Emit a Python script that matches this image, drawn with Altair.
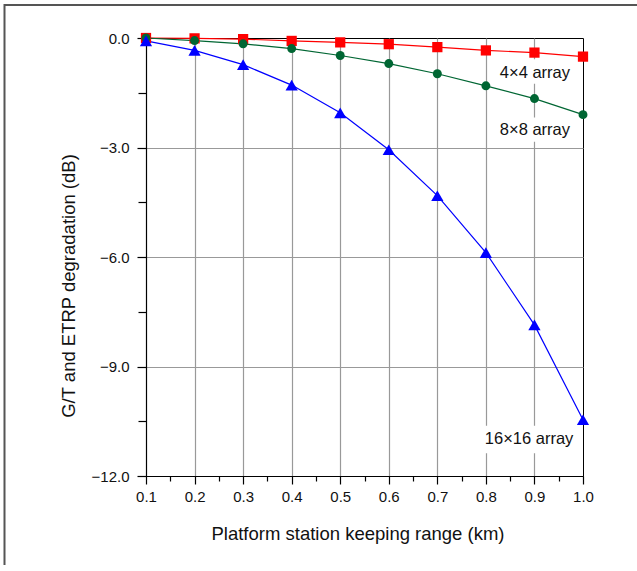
import altair as alt
import pandas as pd

# ---- data ----
ranges_km = [0.1, 0.2, 0.3, 0.4, 0.5, 0.6, 0.7, 0.8, 0.9, 1.0]
deg_4x4 = [0.0, -0.01, -0.03, -0.08, -0.12, -0.17, -0.25, -0.34, -0.40, -0.51]
deg_8x8 = [0.0, -0.07, -0.16, -0.29, -0.48, -0.70, -0.98, -1.31, -1.66, -2.10]
deg_16x16 = [-0.08, -0.34, -0.73, -1.29, -2.05, -3.06, -4.32, -5.88, -7.86, -10.46]
series_names = ["4×4 array", "8×8 array", "16×16 array"]

x_ticks = [round(0.1 + 0.05 * i, 2) for i in range(19)]
y_ticks = [-12.0 + 1.5 * i for i in range(9)]

rows = []
for name, vals in zip(series_names, [deg_4x4, deg_8x8, deg_16x16]):
    for xv, yv in zip(ranges_km, vals):
        rows.append({"range": xv, "deg": yv, "series": name})
df = pd.DataFrame(rows)

# annotation labels (text, position in data units)
ann = pd.DataFrame({
    "text": series_names,
    "x": [0.901, 0.901, 0.889],
    "y": [-0.95, -2.52, -10.99],
    "x0": [0.825, 0.825, 0.793],
    "x1": [0.978, 0.978, 0.985],
    "y0": [-0.58, -2.18, -10.62],
    "y1": [-1.25, -2.84, -11.38],
})

FONT = "Liberation Sans"
colors = ["#ff0000", "#006633", "#0000ff"]
shapes = ["square", "circle", "triangle-up"]
sizes = [105, 80, 150]

xscale = alt.Scale(domain=[0.1, 1.0], nice=False, zero=False)
yscale = alt.Scale(domain=[-12, 0], nice=False, zero=False)

x_major = "round(datum.value*20) % 2 == 0"
y_major = "round(datum.value/1.5) % 2 == 0"

xaxis = alt.Axis(
    values=x_ticks,
    title="Platform station keeping range (km)",
    labelExpr=f"{x_major} ? format(datum.value, '.1f') : ''",
    tickSize={"condition": {"test": x_major, "value": 8}, "value": 5},
    gridOpacity={"condition": {"test": f"{x_major} && datum.value > 0.15 && datum.value < 0.95", "value": 1}, "value": 0},
    labelPadding=5,
    titlePadding=20,
    titleX=211.5,
    labelFlush=False,
    labelOverlap=False,
)
yaxis = alt.Axis(
    values=y_ticks,
    title="G/T and ETRP degradation (dB)",
    labelExpr=f"{y_major} ? format(datum.value, '.1f') : ''",
    tickSize={"condition": {"test": y_major, "value": 9}, "value": 8},
    gridOpacity={"condition": {"test": f"{y_major} && datum.value < -1 && datum.value > -11", "value": 1}, "value": 0},
    labelPadding=8,
    titlePadding=13,
    titleY=247.5,
    labelFlush=False,
    labelOverlap=False,
)

color = alt.Color("series:N", scale=alt.Scale(domain=series_names, range=colors), legend=None)

one = pd.DataFrame({"a": [0]})
# outer figure border drawn as thin filled bars (top and left)
frame_top = alt.Chart(one).mark_rect(color="#555555", strokeWidth=0, clip=False).encode(
    x=alt.value(-142), x2=alt.value(491), y=alt.value(-34), y2=alt.value(-32)
)
frame_left = alt.Chart(one).mark_rect(color="#555555", strokeWidth=0, clip=False).encode(
    x=alt.value(-142.5), x2=alt.value(-140.5), y=alt.value(-34), y2=alt.value(527)
)

bg = alt.Chart(ann).mark_rect(color="white").encode(
    x=alt.X("x0:Q", scale=xscale, axis=xaxis),
    x2="x1:Q",
    y=alt.Y("y0:Q", scale=yscale, axis=yaxis),
    y2="y1:Q",
)

lines = alt.Chart(df).mark_line(strokeWidth=1.2).encode(
    x=alt.X("range:Q", scale=xscale, axis=xaxis),
    y=alt.Y("deg:Q", scale=yscale, axis=yaxis),
    color=color,
    detail="series:N",
)

point_layers = []
for name, shp, sz, col in zip(series_names, shapes, sizes, colors):
    point_layers.append(
        alt.Chart(df).transform_filter(alt.datum.series == name).mark_point(
            filled=True, opacity=1, shape=shp, size=sz, color=col
        ).encode(
            x=alt.X("range:Q", scale=xscale, axis=xaxis),
            y=alt.Y("deg:Q", scale=yscale, axis=yaxis),
        )
    )

labels = alt.Chart(ann).mark_text(font=FONT, fontSize=16.5, color="#111111", baseline="middle", align="center").encode(
    x=alt.X("x:Q", scale=xscale, axis=xaxis),
    y=alt.Y("y:Q", scale=yscale, axis=yaxis),
    text="text:N",
)

chart = alt.layer(frame_top, frame_left, bg, lines, *point_layers, labels).properties(
    width=437,
    height=438,
    autosize=alt.AutoSizeParams(type="none"),
    padding={"left": 146, "top": 38, "right": 54, "bottom": 89},
    background="white",
).configure_view(
    stroke="black", strokeWidth=1
).configure_axis(
    labelFont=FONT, titleFont=FONT, labelFontSize=15, titleFontSize=18.5,
    labelColor="#111111", titleColor="#111111", titleFontWeight="normal",
    domainColor="black", tickColor="black", gridColor="#999999", gridWidth=1.2,
    domainWidth=1.2, tickWidth=1.2,
)

chart.save("out.html", embed_options={"renderer": "svg", "actions": False})
